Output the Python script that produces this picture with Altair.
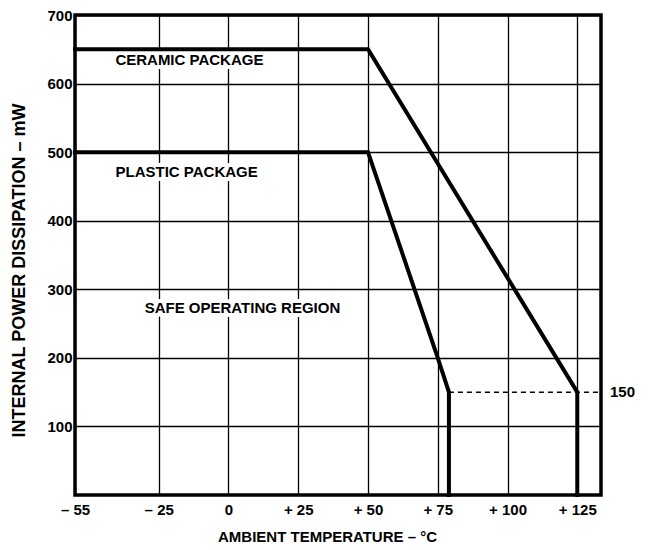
import altair as alt
import pandas as pd

# Axis ticks
temp_ticks = [-55, -25, 0, 25, 50, 75, 100, 125]
power_ticks = [100, 200, 300, 400, 500, 600, 700]
x_domain = [-55, 133.5]
y_domain = [0, 700]

# Derating curves (temperature °C, power mW)
ceramic_temp = [-55, 50, 125, 125]
ceramic_power = [650, 650, 150, 0]
plastic_temp = [-55, 50, 75, 79, 79]
plastic_power = [500, 500, 200, 150, 0]

# Dashed 150 mW reference
ref_temp = [79, 133.5]
ref_power = [150, 150]
ref_label = ["150"]

# Region labels
label_text = ["CERAMIC PACKAGE", "PLASTIC PACKAGE", "SAFE OPERATING REGION"]
label_temp = [-14, -15, 5]
label_power = [634, 471, 272]

FONT = "Liberation Sans"

rows = []
for i, (t, p) in enumerate(zip(ceramic_temp, ceramic_power)):
    rows.append({"series": "ceramic", "i": i, "t": t, "p": p})
for i, (t, p) in enumerate(zip(plastic_temp, plastic_power)):
    rows.append({"series": "plastic", "i": i, "t": t, "p": p})
curves = pd.DataFrame(rows)
ref = pd.DataFrame({"t": ref_temp, "p": ref_power})
ref_lab = pd.DataFrame({"t": [ref_temp[-1]], "p": [ref_power[-1]], "txt": ref_label})
labels = pd.DataFrame({"t": label_temp, "p": label_power, "txt": label_text})

label_expr = ("datum.value < 0 ? '\u2013 ' + abs(datum.value) : "
              "(datum.value > 0 ? '+ ' + datum.value : '0')")

x_enc = alt.X(
    "t:Q",
    scale=alt.Scale(domain=x_domain, nice=False, zero=False),
    axis=alt.Axis(
        values=temp_ticks,
        labelExpr=label_expr,
        labelFlush=False,
        labelOverlap=False,
        labelPadding=7,
        labelFontSize=15,
        title="AMBIENT TEMPERATURE \u2013 \u00b0C",
        titleFontSize=15,
        titleX=252,
        titleY=41,
        titleAlign="center",
        titleBaseline="middle",
    ),
)
y_enc = alt.Y(
    "p:Q",
    scale=alt.Scale(domain=y_domain, nice=False, zero=True),
    axis=alt.Axis(
        values=power_ticks,
        labelOverlap=False,
        labelFlush=False,
        labelPadding=3,
        labelFontSize=15,
        title="INTERNAL POWER DISSIPATION \u2013 mW",
        titleFontSize=18,
        titleAngle=270,
        titleX=-56,
        titleY=255,
        titleAlign="center",
        titleBaseline="middle",
    ),
)

halo = alt.Chart(labels).mark_text(
    font=FONT, fontWeight="bold", fontSize=15, fill="white",
    stroke="white", strokeWidth=8, strokeJoin="round", baseline="middle", align="center"
).encode(x=x_enc, y=y_enc, text="txt:N")

text = alt.Chart(labels).mark_text(
    font=FONT, fontWeight="bold", fontSize=15, color="black",
    baseline="middle", align="center"
).encode(x="t:Q", y="p:Q", text="txt:N")

ref_line = alt.Chart(ref).mark_line(
    color="black", strokeWidth=1.5, strokeDash=[5, 4]
).encode(x="t:Q", y="p:Q")

ref_text = alt.Chart(ref_lab).mark_text(
    font=FONT, fontWeight="bold", fontSize=15, color="black",
    align="left", baseline="middle", dx=9
).encode(x="t:Q", y="p:Q", text="txt:N")

lines = alt.Chart(curves).mark_line(
    color="black", strokeWidth=4, strokeJoin="miter", strokeCap="square"
).encode(x="t:Q", y="p:Q", detail="series:N", order="i:Q")

chart = alt.layer(halo, text, ref_line, lines, ref_text).properties(
    width=526,
    height=480,
    autosize=alt.AutoSizeParams(type="none"),
    padding={"left": 67, "top": 7, "right": 38, "bottom": 50},
    background="white",
).configure_view(
    stroke="black", strokeWidth=3.5
).configure_axis(
    grid=True, gridColor="black", gridWidth=1.3, gridOpacity=1,
    domain=False, ticks=False,
    labelFont=FONT, labelFontWeight="bold", labelColor="black",
    titleFont=FONT, titleFontWeight="bold", titleColor="black",
)

chart.save("out.html", embed_options={"renderer": "svg", "actions": False})
